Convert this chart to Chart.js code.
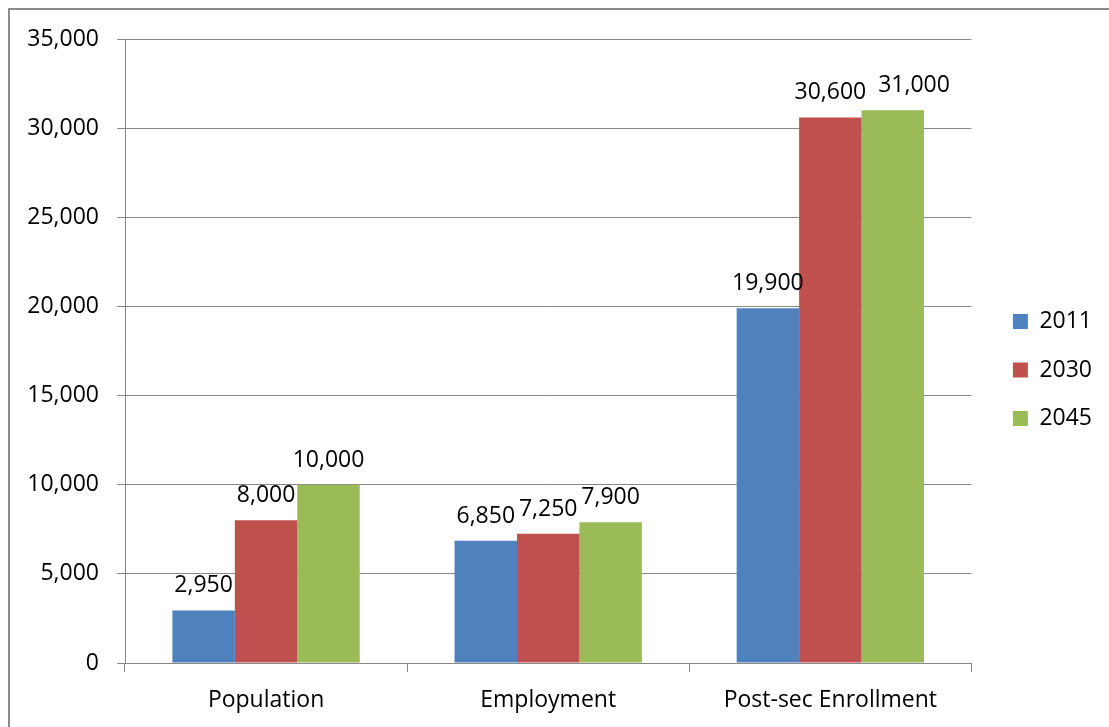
<!DOCTYPE html>
<html>
<head>
<meta charset="utf-8">
<script src="https://cdn.jsdelivr.net/npm/chart.js@4.4.0/dist/chart.umd.min.js"></script>
<style>
  html, body { margin: 0; padding: 0; background: #fff; overflow: hidden; }
  #wrap { position: relative; width: 1109px; height: 727px; }
  #frame {
    position: absolute; left: 8px; top: 8px; width: 1120px; height: 740px;
    border: 2px solid #8c8c8c; pointer-events: none;
  }
</style>
</head>
<body>
<div id="wrap">
  <canvas id="myChart" width="1109" height="727"></canvas>
  <div id="frame"></div>
</div>
<script>
const categories = ["Population", "Employment", "Post-sec Enrollment"];
const years = ["2011", "2030", "2045"];
const values2011 = [2950, 6850, 19900];
const values2030 = [8000, 7250, 30600];
const values2045 = [10000, 7900, 31000];
const yTicks = [0, 5000, 10000, 15000, 20000, 25000, 30000, 35000];

const colors = ["#4F81BD", "#C0504D", "#9BBB59"];
const fontFamily = "'Open Sans', 'Noto Sans', sans-serif";

// value labels above each bar; push a label right if it would collide
// with its left neighbour in the same group
const barLabels = {
  id: "barLabels",
  afterDatasetsDraw(chart) {
    const ctx = chart.ctx;
    const size = 23;
    ctx.save();
    ctx.font = size + "px " + fontFamily;
    ctx.fillStyle = "#000";
    ctx.textAlign = "left";
    ctx.textBaseline = "alphabetic";
    const n = chart.data.labels.length;
    for (let j = 0; j < n; j++) {
      let prev = null;
      chart.data.datasets.forEach((ds, i) => {
        const bar = chart.getDatasetMeta(i).data[j];
        const txt = ds.data[j].toLocaleString("en-US");
        const w = ctx.measureText(txt).width;
        let left = bar.x - w / 2;
        const y = bar.y - 18;
        if (prev && left < prev.right && Math.abs(y - prev.y) < size * 0.75) {
          left = prev.right + 12;
        }
        ctx.fillText(txt, left, y);
        prev = { right: left + w, y: y };
      });
    }
    ctx.restore();
  },
};

// nudge the legend to where Excel put it
const legendNudge = {
  id: "legendNudge",
  afterLayout(chart) {
    const lg = chart.legend;
    lg.left += 16;
    lg.right += 16;
    lg.top -= 13;
    lg.bottom -= 13;
  },
};

const ctx = document.getElementById("myChart").getContext("2d");
new Chart(ctx, {
  type: "bar",
  data: {
    labels: categories,
    datasets: [
      { label: years[0], data: values2011, backgroundColor: colors[0] },
      { label: years[1], data: values2030, backgroundColor: colors[1] },
      { label: years[2], data: values2045, backgroundColor: colors[2] },
    ],
  },
  options: {
    responsive: false,
    animation: false,
    layout: { padding: { top: 39, right: 23, bottom: 0, left: 0 } },
    datasets: {
      bar: { categoryPercentage: 0.664, barPercentage: 1.0 },
    },
    scales: {
      x: {
        grid: {
          drawOnChartArea: false,
          drawTicks: true,
          tickLength: 9,
          color: "#888",
          offset: true,
        },
        border: { color: "#888", width: 1 },
        ticks: {
          color: "#000",
          font: { family: fontFamily, size: 23 },
          padding: 15,
        },
        afterFit(scale) {
          scale.height = 64;
        },
      },
      y: {
        min: 0,
        max: 35000,
        afterBuildTicks(scale) {
          scale.ticks = yTicks.map((v) => ({ value: v }));
        },
        grid: { color: "#888", tickLength: 8, drawTicks: true },
        border: { color: "#888", width: 1 },
        ticks: {
          color: "#000",
          font: { family: fontFamily, size: 23 },
          padding: 18,
          callback: (v) => Number(v).toLocaleString("en-US"),
        },
        afterFit(scale) {
          scale.width = 125;
        },
      },
    },
    plugins: {
      legend: {
        position: "right",
        labels: {
          boxWidth: 15,
          boxHeight: 15,
          padding: 25.5,
          color: "#000",
          font: { family: fontFamily, size: 23 },
        },
      },
      tooltip: { enabled: false },
    },
  },
  plugins: [barLabels, legendNudge],
});
</script>
</body>
</html>
